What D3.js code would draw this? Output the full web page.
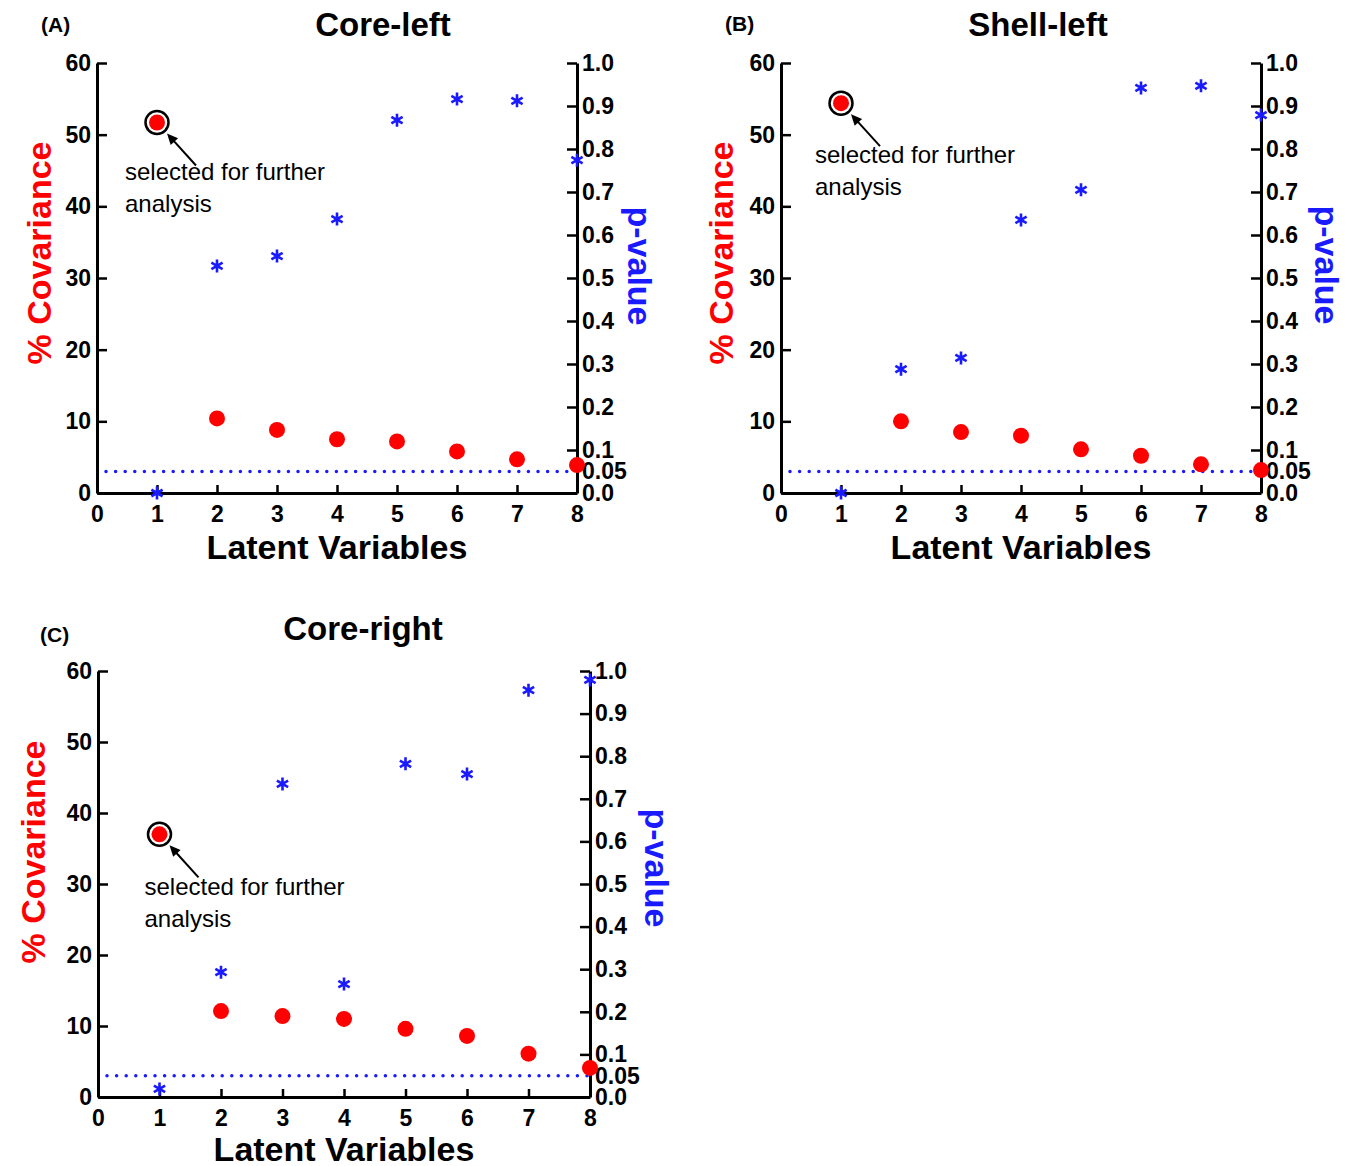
<!DOCTYPE html>
<html>
<head>
<meta charset="utf-8">
<script src="https://cdn.jsdelivr.net/npm/d3@7"></script>
<style>
  body { margin: 0; background: #fff; }
  text { font-family: "Liberation Sans", Arial, sans-serif; }
</style>
</head>
<body>
<svg id="fig" width="1353" height="1166"></svg>
<script>
// x categories and tick values
const latentVars = [1, 2, 3, 4, 5, 6, 7, 8];
const xTicks = [0, 1, 2, 3, 4, 5, 6, 7, 8];
const covTicks = [0, 10, 20, 30, 40, 50, 60];
const pTicks = [0, 0.05, 0.1, 0.2, 0.3, 0.4, 0.5, 0.6, 0.7, 0.8, 0.9, 1.0];
const pThreshold = 0.05;

// % covariance (red dots) and p-values (blue stars) per panel
const covCoreLeft = [51.7, 10.4, 8.8, 7.5, 7.2, 5.8, 4.7, 3.9];
const pCoreLeft = [0.0, 0.528, 0.551, 0.637, 0.867, 0.916, 0.912, 0.774];

const covShellLeft = [54.4, 10.0, 8.5, 8.0, 6.1, 5.2, 4.0, 3.2];
const pShellLeft = [0.0, 0.288, 0.314, 0.635, 0.705, 0.942, 0.947, 0.879];

const covCoreRight = [37.0, 12.1, 11.4, 11.0, 9.6, 8.6, 6.1, 4.1];
const pCoreRight = [0.019, 0.293, 0.735, 0.265, 0.782, 0.758, 0.955, 0.979];

const RED = "#ff0000", BLUE = "#1a1aff";

const svg = d3.select("#fig");

// one panel: layout is given in page pixels
function drawPanel(cfg) {
  const g = svg.append("g");

  const x = d3.scaleLinear().domain([0, 8]).range([cfg.x0, cfg.x1]);
  const yC = d3.scaleLinear().domain([0, 60]).range([cfg.y1, cfg.y0]);
  const yP = d3.scaleLinear().domain([0, 1]).range([cfg.y1, cfg.y0]);

  // p = 0.05 threshold
  g.append("line")
    .attr("x1", x(0) + 9).attr("x2", x(8) - 2)
    .attr("y1", yP(pThreshold)).attr("y2", yP(pThreshold))
    .attr("stroke", BLUE).attr("stroke-width", 3.5)
    .attr("stroke-linecap", "round")
    .attr("stroke-dasharray", "0,9.6");

  // axes
  const xAxis = g.append("g")
    .attr("transform", `translate(0,${cfg.y1})`)
    .call(d3.axisBottom(x).tickValues(xTicks).tickSize(-8).tickSizeOuter(0).tickPadding(13));

  const yAxis = g.append("g")
    .attr("transform", `translate(${cfg.x0},0)`)
    .call(d3.axisLeft(yC).tickValues(covTicks).tickSize(-10).tickSizeOuter(0).tickPadding(6));

  const pAxis = g.append("g")
    .attr("transform", `translate(${cfg.x1},0)`)
    .call(d3.axisRight(yP).tickValues(pTicks).tickSize(-10).tickSizeOuter(0).tickPadding(5)
      .tickFormat(d => d === pThreshold ? "0.05" : d3.format(".1f")(d)));

  pAxis.selectAll(".tick").filter(d => d === pThreshold).select("line").remove();

  [xAxis, yAxis, pAxis].forEach(a => {
    a.select(".domain").attr("stroke", "#000").attr("stroke-width", 3);
    a.selectAll(".tick line").attr("stroke", "#000").attr("stroke-width", 2.5);
    a.selectAll(".tick text")
      .attr("fill", "#000")
      .style("font-size", "23px")
      .style("font-weight", "bold");
  });

  // covariance dots
  g.selectAll("circle.cov")
    .data(latentVars)
    .join("circle")
      .attr("class", "cov")
      .attr("cx", d => x(d))
      .attr("cy", (d, i) => yC(cfg.cov[i]))
      .attr("r", 8)
      .attr("fill", RED);

  // p-value asterisks
  const r = 6.5, s = r * Math.sin(Math.PI / 3), c = r * Math.cos(Math.PI / 3);
  const star = `M0,${-r}L0,${r}M${-s},${-c}L${s},${c}M${-s},${c}L${s},${-c}`;
  g.selectAll("path.pv")
    .data(latentVars)
    .join("path")
      .attr("class", "pv")
      .attr("transform", (d, i) => `translate(${x(d)},${yP(cfg.p[i])})`)
      .attr("d", star)
      .attr("fill", "none")
      .attr("stroke", BLUE)
      .attr("stroke-width", 2.6);

  // highlighted first LV
  const hx = x(latentVars[0]), hy = yC(cfg.cov[0]);
  g.append("circle")
    .attr("cx", hx).attr("cy", hy).attr("r", 11.5)
    .attr("fill", "none").attr("stroke", "#000").attr("stroke-width", 2.5);

  const tipX = hx + 10, tipY = hy + 11, tailX = hx + 39, tailY = hy + 43;
  const ang = Math.atan2(tipY - tailY, tipX - tailX);
  const hl = 11, hw = 5;
  g.append("line")
    .attr("x1", tailX).attr("y1", tailY)
    .attr("x2", tipX - Math.cos(ang) * 8).attr("y2", tipY - Math.sin(ang) * 8)
    .attr("stroke", "#000").attr("stroke-width", 2);
  const bx = tipX - Math.cos(ang) * hl, by = tipY - Math.sin(ang) * hl;
  g.append("path")
    .attr("d", `M${tipX},${tipY}L${bx - Math.sin(ang) * hw},${by + Math.cos(ang) * hw}L${bx + Math.sin(ang) * hw},${by - Math.cos(ang) * hw}Z`)
    .attr("fill", "#000");

  const note = g.append("text")
    .attr("x", hx + cfg.noteDx).attr("y", hy + cfg.noteDy)
    .style("font-size", "24px").attr("fill", "#000");
  note.append("tspan").text("selected for further");
  note.append("tspan").attr("x", hx + cfg.noteDx).attr("dy", 32).text("analysis");

  // titles and labels
  g.append("text")
    .attr("x", cfg.letterX).attr("y", cfg.letterY)
    .style("font-size", "21px").style("font-weight", "bold")
    .text(cfg.letter);

  g.append("text")
    .attr("x", cfg.titleX).attr("y", cfg.titleY)
    .attr("text-anchor", "middle")
    .style("font-size", "33px").style("font-weight", "bold")
    .text(cfg.title);

  g.append("text")
    .attr("transform", `translate(${(cfg.x0 + cfg.x1) / 2},${cfg.y1 + cfg.xLabelDy})`)
    .attr("text-anchor", "middle")
    .style("font-size", "34px").style("font-weight", "bold")
    .text("Latent Variables");

  g.append("text")
    .attr("transform", `translate(${cfg.covLabelX},${cfg.covLabelY}) rotate(-90)`)
    .attr("text-anchor", "middle")
    .attr("fill", RED)
    .style("font-size", "34px").style("font-weight", "bold")
    .text("% Covariance");

  g.append("text")
    .attr("transform", `translate(${cfg.pLabelX},${cfg.pLabelY}) rotate(90)`)
    .attr("text-anchor", "middle")
    .attr("fill", BLUE)
    .style("font-size", "34px").style("font-weight", "bold")
    .text("p-value");
}

drawPanel({
  letter: "(A)", letterX: 41, letterY: 32,
  title: "Core-left", titleX: 383, titleY: 36,
  x0: 97, x1: 577, y0: 63, y1: 493, xLabelDy: 66,
  cov: covCoreLeft, p: pCoreLeft,
  noteDx: -32, noteDy: 58,
  covLabelX: 51, covLabelY: 253,
  pLabelX: 628, pLabelY: 266
});

drawPanel({
  letter: "(B)", letterX: 725, letterY: 31,
  title: "Shell-left", titleX: 1038, titleY: 36,
  x0: 781, x1: 1261, y0: 63, y1: 493, xLabelDy: 66,
  cov: covShellLeft, p: pShellLeft,
  noteDx: -26, noteDy: 60,
  covLabelX: 733, covLabelY: 253,
  pLabelX: 1315, pLabelY: 265
});

drawPanel({
  letter: "(C)", letterX: 40, letterY: 642,
  title: "Core-right", titleX: 363, titleY: 640,
  x0: 98, x1: 590, y0: 671, y1: 1097, xLabelDy: 64,
  cov: covCoreRight, p: pCoreRight,
  noteDx: -15, noteDy: 61,
  covLabelX: 45, covLabelY: 852,
  pLabelX: 645, pLabelY: 868
});
</script>
</body>
</html>
